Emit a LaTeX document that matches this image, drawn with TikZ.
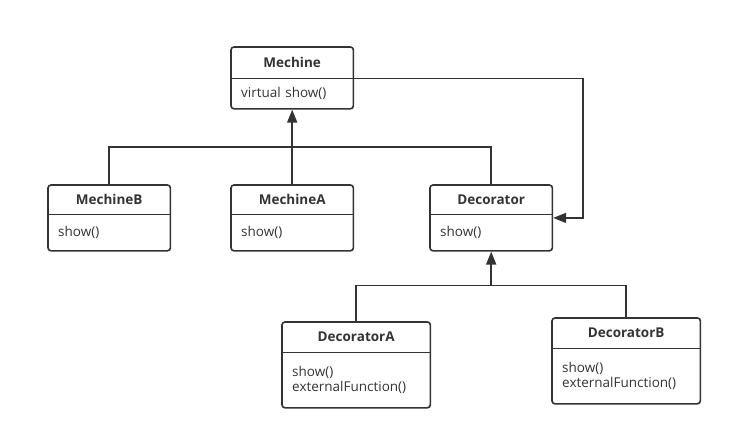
\documentclass[tikz,border=0pt]{standalone}
\usepackage{fontspec}
\setmainfont{Open Sans}
\usetikzlibrary{positioning}
\usetikzlibrary{calc}
\usetikzlibrary{fit}
\usetikzlibrary{arrows.meta}
\definecolor{ink}{HTML}{333333}
\tikzstyle{classtitle}=[ink, font=\fontsize{13.5}{16}\selectfont\bfseries, align=center, inner sep=0pt, minimum width=122pt, minimum height=30pt]
\tikzstyle{classbody}=[ink, font=\fontsize{13.5}{15.5}\selectfont, align=left, inner xsep=10pt, inner ysep=0pt, text width=102pt, minimum height=30pt]
\tikzstyle{classframe}=[draw=ink, line width=1.6pt, rounded corners=3pt, inner sep=0pt]
\tikzstyle{link}=[draw=ink, line width=1.6pt]
\tikzstyle{inherit}=[link, -{Triangle[length=13pt, width=10pt]}]

\begin{document}
\begin{tikzpicture}[x=1pt, y=-1pt]
    \useasboundingbox (0, 0) rectangle (732, 439);

    % Base class
    \node[classtitle, anchor=north west, minimum height=31pt] at (231, 47) (mechineTitle) {Mechine};
    \node[classbody, below=0pt of mechineTitle] (mechineBody) {virtual show()};
    \node[classframe, fit=(mechineTitle)(mechineBody)] (mechine) {};
    \draw[link] (mechineTitle.south west) -- (mechineTitle.south east);

    % Concrete classes
    \node[classtitle, anchor=north west, minimum height=29pt] at (48, 185) (mechineBTitle) {MechineB};
    \node[classbody, minimum height=36pt, below=0pt of mechineBTitle] (mechineBBody) {show()};
    \node[classframe, fit=(mechineBTitle)(mechineBBody)] (mechineB) {};
    \draw[link] (mechineBTitle.south west) -- (mechineBTitle.south east);

    \node[classtitle, anchor=north west, minimum height=29pt] at (231, 185) (mechineATitle) {MechineA};
    \node[classbody, minimum height=36pt, below=0pt of mechineATitle] (mechineABody) {show()};
    \node[classframe, fit=(mechineATitle)(mechineABody)] (mechineA) {};
    \draw[link] (mechineATitle.south west) -- (mechineATitle.south east);

    \node[classtitle, anchor=north west, minimum height=29pt] at (430, 185) (decoratorTitle) {Decorator};
    \node[classbody, minimum height=36pt, below=0pt of decoratorTitle] (decoratorBody) {show()};
    \node[classframe, fit=(decoratorTitle)(decoratorBody)] (decorator) {};
    \draw[link] (decoratorTitle.south west) -- (decoratorTitle.south east);

    % Decorators
    \node[classtitle, anchor=north west, minimum width=148pt] at (282, 322) (decoratorATitle) {DecoratorA};
    \node[classbody, text width=128pt, minimum height=55pt, below=0pt of decoratorATitle] (decoratorABody) {show()\\externalFunction()};
    \node[classframe, fit=(decoratorATitle)(decoratorABody)] (decoratorA) {};
    \draw[link] (decoratorATitle.south west) -- (decoratorATitle.south east);

    \node[classtitle, anchor=north west, minimum width=148pt] at (552, 318) (decoratorBTitle) {DecoratorB};
    \node[classbody, text width=128pt, minimum height=55pt, below=0pt of decoratorBTitle] (decoratorBBody) {show()\\externalFunction()};
    \node[classframe, fit=(decoratorBTitle)(decoratorBBody)] (decoratorB) {};
    \draw[link] (decoratorBTitle.south west) -- (decoratorBTitle.south east);

    % Arrows
    \coordinate (upperBus) at ($(mechine.south)!0.5!(mechineA.north)$);
    \coordinate (lowerBus) at ($(decorator.south) + (0, 34)$);
    \coordinate (wrapCorner) at ($(decorator.east) + (30, 0)$);

    \draw[link] (mechineB.north) |- (upperBus) -| (decorator.north);
    \draw[inherit] (mechineA.north) -- (mechine.south);

    \draw[link] (decoratorA.north) |- (lowerBus) -| (decoratorB.north);
    \draw[inherit] (lowerBus) -- (decorator.south);

    \draw[inherit] (mechineTitle.south east) -| (wrapCorner) -- (decorator.east);

\end{tikzpicture}
\end{document}
